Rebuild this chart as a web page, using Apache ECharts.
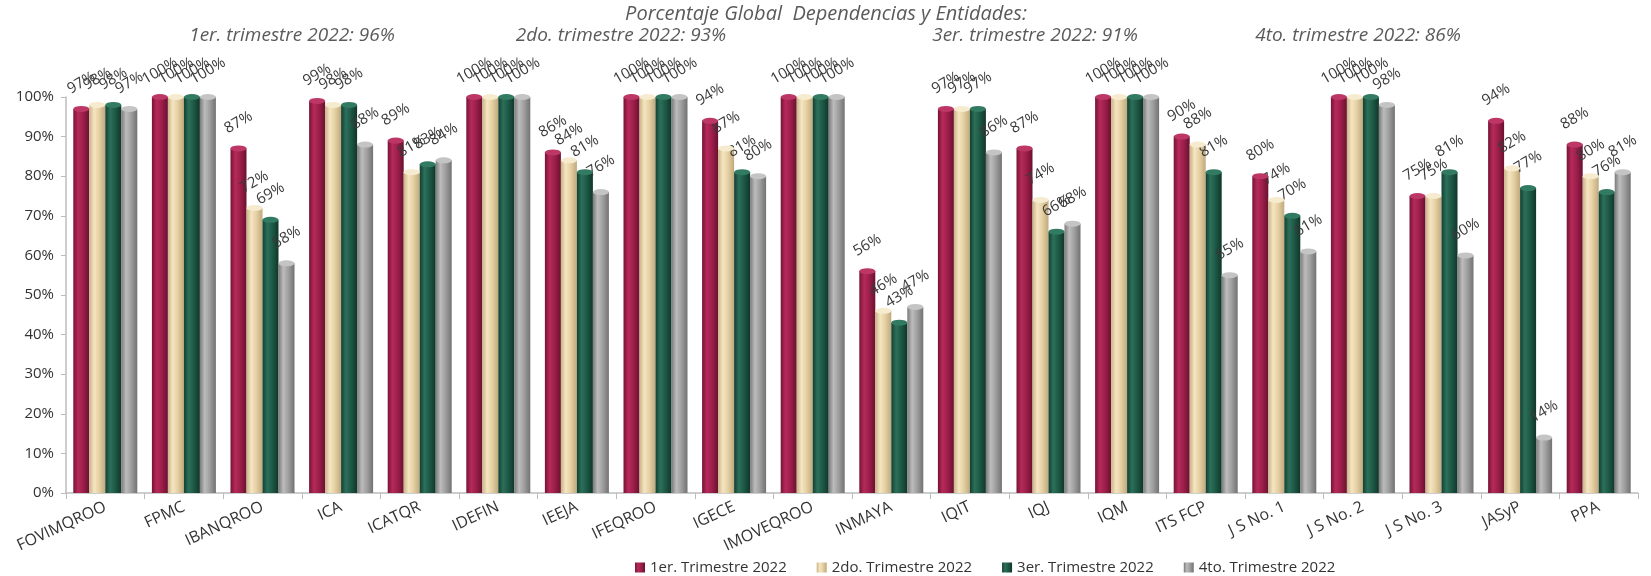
<!DOCTYPE html>
<html>
<head>
<meta charset="utf-8">
<script src="https://cdn.jsdelivr.net/npm/echarts@6/dist/echarts.min.js"></script>
<style>
html,body{margin:0;padding:0;background:#fff;}
#chart{width:1651px;height:576px;}
</style>
</head>
<body>
<div id="chart"></div>
<script>
const categories = ['FOVIMQROO','FPMC','IBANQROO','ICA','ICATQR','IDEFIN','IEEJA','IFEQROO','IGECE','IMOVEQROO','INMAYA','IQIT','IQJ','IQM','ITS FCP','J S No. 1','J S No. 2','J S No. 3','JASyP','PPA'];
const seriesNames = ['1er. Trimestre 2022','2do. Trimestre 2022','3er. Trimestre 2022','4to. Trimestre 2022'];
const q1 = [97,100,87,99,89,100,86,100,94,100,56,97,87,100,90,80,100,75,94,88];
const q2 = [98,100,72,98,81,100,84,100,87,100,46,97,74,100,88,74,100,75,82,80];
const q3 = [98,100,69,98,83,100,81,100,81,100,43,97,66,100,81,70,100,81,77,76];
const q4 = [97,100,58,88,84,100,76,100,80,100,47,86,68,100,55,61,98,60,14,81];
const yTicks = [0,10,20,30,40,50,60,70,80,90,100];
const titleText = 'Porcentaje Global  Dependencias y Entidades:';
const subtitles = ['1er. trimestre 2022: 96%','2do. trimestre 2022: 93%','3er. trimestre 2022: 91%','4to. trimestre 2022: 86%'];

const values = [q1,q2,q3,q4];
const grads = [
  ['#761333','#b52a5b','#9f1f4b','#6a1130'],
  ['#c9b386','#f5e5c1','#e6d1a4','#bfa97d'],
  ['#133f31','#2c705a','#1e5a47','#10362a'],
  ['#7a7a7a','#bcbcbc','#a0a0a0','#727272']
];
const caps = ['#bd3766','#f7ebcf','#327a62','#c4c4c4'];
const legendColors = ['#9f1f4b','#dccba6','#1e5a47','#a0a0a0'];
const offsets = [-24,-8,8,24];
const FONT = 'Open Sans';

function grad(c){
  return {type:'linear',x:0,y:0,x2:1,y2:0,colorStops:[
    {offset:0,color:c[0]},{offset:0.3,color:c[1]},{offset:0.6,color:c[2]},{offset:1,color:c[3]}]};
}

const series = [];
values.forEach((v,i)=>{
  series.push({
    name: seriesNames[i], type:'bar', data:v, barWidth:16, barGap:'0%',
    color: legendColors[i],
    itemStyle:{color:grad(grads[i])},
    label:{show:true, position:'top', rotate:30, distance:26, align:'center', verticalAlign:'middle',
      formatter: p => p.value + '%', fontFamily:FONT, fontSize:15, color:'#3a3a3a'}
  });
});
values.forEach((v,i)=>{
  series.push({
    name:'cap'+i, type:'scatter', data:v, symbol:'circle', symbolSize:[16,6],
    symbolOffset:[offsets[i],0], silent:true, z:3,
    itemStyle:{color:caps[i], opacity:1}
  });
});

const chart = echarts.init(document.getElementById('chart'));
const subPos = [292,621,1035,1358];
chart.setOption({
  animation:false,
  graphic: [
    {type:'text', x:826, y:14, style:{text:titleText, align:'center', verticalAlign:'middle', fontFamily:FONT, fontStyle:'italic', fontSize:20, fill:'#5a5a5a'}},
  ].concat(subtitles.map((s,i)=>({type:'text', x:subPos[i], y:36, style:{text:s, align:'center', verticalAlign:'middle', fontFamily:FONT, fontStyle:'italic', fontSize:19, fill:'#5a5a5a'}}))),
  grid:{left:66, right:13, top:97, bottom:83, containLabel:false},
  legend:{data:seriesNames, left:630, top:555, itemWidth:10, itemHeight:10, itemGap:30, icon:'rect',
    textStyle:{fontFamily:FONT, fontSize:15, color:'#333'}},
  xAxis:{type:'category', data:categories,
    axisLine:{lineStyle:{color:'#bdbdbd', width:1.5}},
    axisTick:{show:true, length:6, lineStyle:{color:'#bdbdbd'}},
    axisLabel:{interval:0, rotate:25, margin:13, fontFamily:FONT, fontSize:16, color:'#333'}},
  yAxis:{type:'value', min:yTicks[0], max:yTicks[yTicks.length-1], interval:10,
    splitLine:{show:false},
    axisLine:{show:true, lineStyle:{color:'#bdbdbd', width:1.5}},
    axisTick:{show:true, length:5, lineStyle:{color:'#bdbdbd'}},
    axisLabel:{formatter:'{value}%', margin:12, fontFamily:FONT, fontSize:15, color:'#333'}},
  series: series
});
</script>
</body>
</html>
